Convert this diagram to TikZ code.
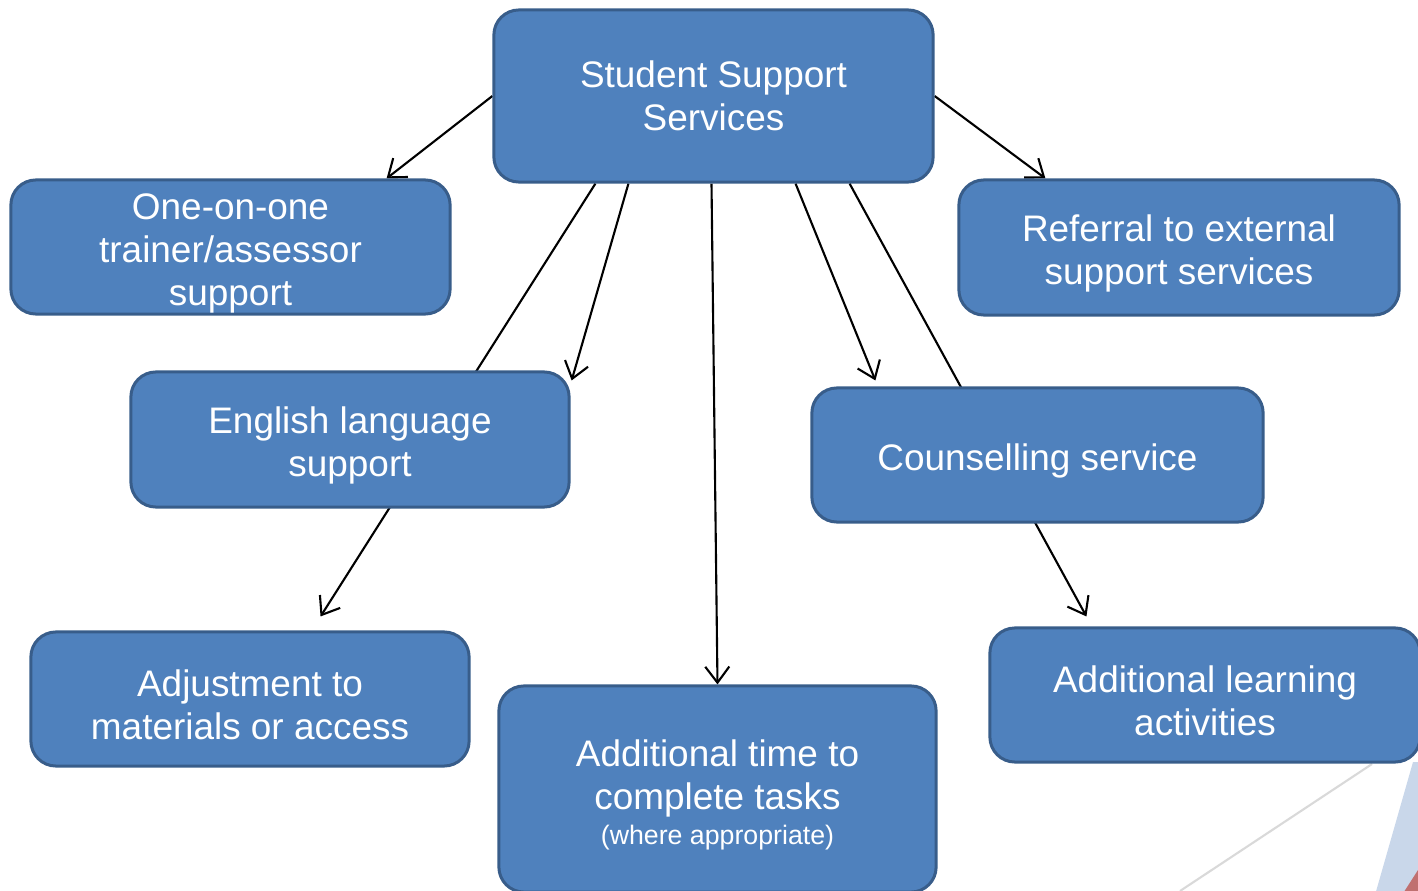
\documentclass[tikz,border=0pt]{standalone}
\usepackage{fontspec}
\setmainfont{Liberation Sans}
\usetikzlibrary{positioning, arrows.meta, backgrounds}
\definecolor{boxblue}{RGB}{79,129,189}
\definecolor{boxedge}{RGB}{56,93,138}
\definecolor{paleblue}{RGB}{201,215,234}
\definecolor{palered}{RGB}{192,112,112}
\definecolor{rulegray}{RGB}{217,217,217}
\tikzstyle{service}=[rectangle, rounded corners=0.25cm, draw=boxedge, fill=boxblue, line width=0.03cm, text=white, align=center, font=\fontsize{10.5}{12.2}\selectfont]
\tikzstyle{link}=[line width=0.6pt, -{Straight Barb[length=1.6mm,width=2.4mm]}]
\newcommand{\smalltxt}{\fontsize{7.6}{11}\selectfont}
\newcommand{\lift}{\rule{0pt}{11pt}}

\begin{document}
\begin{tikzpicture}[x=0.01cm, y=-0.01cm]
    %Support services chart, boxes placed at pixel positions of the slide
    \useasboundingbox (0,0) rectangle (1418,891);
    \node[service, minimum width=4.39cm, minimum height=1.72cm](top) at (713.5,96) {Student Support\\Services};
    \node[service, inner ysep=0pt, minimum width=4.39cm, minimum height=1.34cm](one) at (230.5,247) {\lift One-on-one\\trainer/assessor\\support};
    \node[service, minimum width=4.40cm, minimum height=1.35cm](ref) at (1179,247.5) {\lift Referral to external\\support services};
    \node[service, minimum width=4.38cm, minimum height=1.35cm](eng) at (350,439.5) {\lift English language\\support};
    \node[service, minimum width=4.51cm, minimum height=1.34cm](couns) at (1037.5,455) {\lift Counselling service};
    \node[service, minimum width=4.38cm, minimum height=1.34cm](adj) at (250,699) {\lift Adjustment to\\materials or access};
    \node[service, minimum width=4.37cm, minimum height=2.06cm](time) at (717.5,789) {\lift Additional time to\\complete tasks\\[-2pt]{\smalltxt (where appropriate)}};
    \node[service, minimum width=4.30cm, minimum height=1.34cm](learn) at (1205,695) {\lift Additional learning\\activities};
    \begin{scope}[on background layer]
        \fill[paleblue] (1413,762) -- (1422,762) -- (1422,895) -- (1375,895) -- cycle;
        \fill[palered] (1418,870) -- (1422,895) -- (1402,895) -- cycle;
        \draw[rulegray, line width=0.6pt] (1372,764) -- (1180,891);
        \draw[link] (top.west) to ([xshift=3.77cm]one.north west);
        \draw[link] (top.east) to ([xshift=0.88cm]ref.north west);
        \draw[link] ([xshift=1.03cm]top.south west) to ([xshift=2.91cm, yshift=0.14cm]adj.north west);
        \draw[link] ([xshift=1.36cm]top.south west) to ([xshift=0.01cm, yshift=-0.10cm]eng.north east);
        \draw[link] ([xshift=2.19cm]top.south west) to (time.north);
        \draw[link] ([xshift=3.03cm]top.south west) to ([xshift=0.65cm, yshift=0.06cm]couns.north west);
        \draw[link] ([xshift=3.57cm]top.south west) to ([xshift=0.98cm, yshift=0.10cm]learn.north west);
    \end{scope}
\end{tikzpicture}
\end{document}
